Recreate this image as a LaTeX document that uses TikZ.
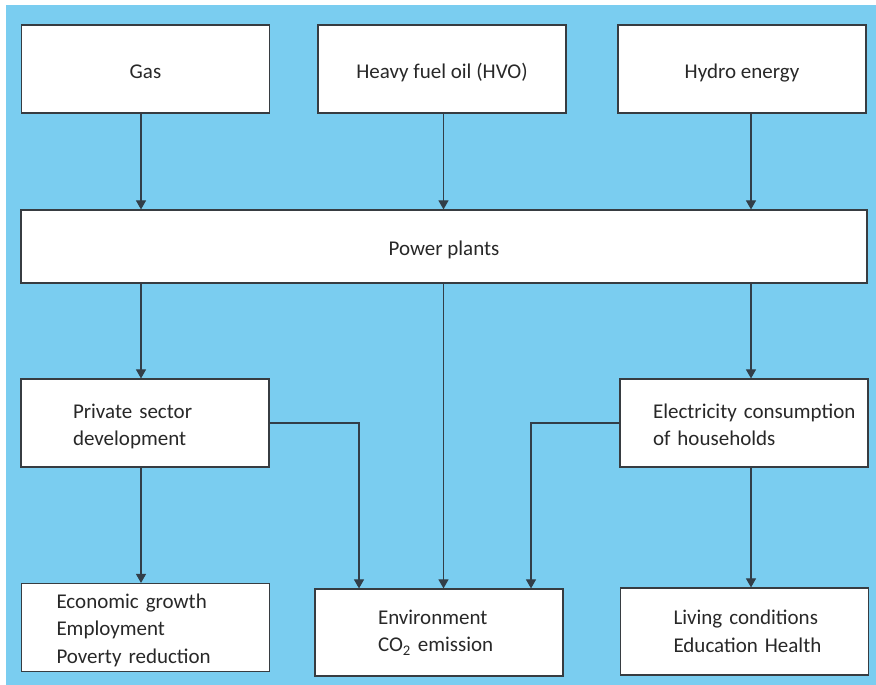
\documentclass[tikz,border=0pt]{standalone}
\usepackage{fontspec}
\setmainfont{Carlito}
\usetikzlibrary{arrows.meta}

\definecolor{skyback}{RGB}{122,205,240}
\definecolor{boxline}{RGB}{55,60,65}
\definecolor{wireline}{RGB}{50,62,72}
\definecolor{txtgray}{RGB}{40,40,40}

\tikzset{
	tbox/.style={draw=boxline, line width=1.2pt, fill=white, text=txtgray,
		minimum width=248, minimum height=88, inner sep=0pt,
		font=\fontsize{21}{27.5}\selectfont},
	sbox/.style={tbox, text height=18.6pt, text depth=0pt},
	lbox/.style={tbox, align=left, inner xsep=#1, text width=248-2*#1},
	wire/.style={draw=wireline, line width=1.1pt, -{Triangle[width=10pt,length=9pt]}}
}

\begin{document}
\begin{tikzpicture}[x=1pt,y=-1pt]
	\useasboundingbox (0,0) rectangle (876,685);
	\fill[skyback] (6,5) rectangle (876,685);

	% sources
	\node[sbox] (gas) at (145.5,69) {Gas};
	\node[sbox] (hvo) at (442,69) {Heavy fuel oil (HVO)};
	\node[sbox] (hydro) at (742,69) {Hydro energy};

	\node[sbox, minimum width=846, minimum height=73] (plants) at (444,246.5) {Power plants};

	\node[lbox=52, text depth=24pt] (private) at (145,423) {Private sector\\development};
	\node[lbox=33, text depth=24pt] (elec) at (744,423) {\mbox{Electricity consumption}\\of households};

	\node[lbox=35, text depth=53.5pt] (econ) at (145.5,627.5) {Economic growth\\Employment\\Poverty reduction};
	\node[lbox=63, minimum height=87] (env) at (439,632.5) {Environment\\CO\textsubscript{2} emission};
	\node[lbox=53, minimum height=87] (living) at (744.5,631.5) {\mbox{Living conditions}\\\mbox{Education Health}};

	% columns of the arrows
	\coordinate (colA) at (141,0);
	\coordinate (colB) at (443.5,0);
	\coordinate (colC) at (751,0);
	\coordinate (colD) at (359,0);
	\coordinate (colE) at (531,0);

	\foreach \src/\col in {gas/colA, hvo/colB, hydro/colC} {
		\draw[wire] (\src.south -| \col) -- (plants.north -| \col);
	}
	\draw[wire] (plants.south -| colA) -- (private.north -| colA);
	\draw[wire] (plants.south -| colC) -- (elec.north -| colC);
	\draw[wire] (plants.south -| colB) -- (env.north -| colB);
	\draw[wire] (private.south -| colA) -- (econ.north -| colA);
	\draw[wire] (elec.south -| colC) -- (living.north -| colC);
	\draw[wire] (private.east) -| (env.north -| colD);
	\draw[wire] (elec.west) -| (env.north -| colE);
\end{tikzpicture}
\end{document}
